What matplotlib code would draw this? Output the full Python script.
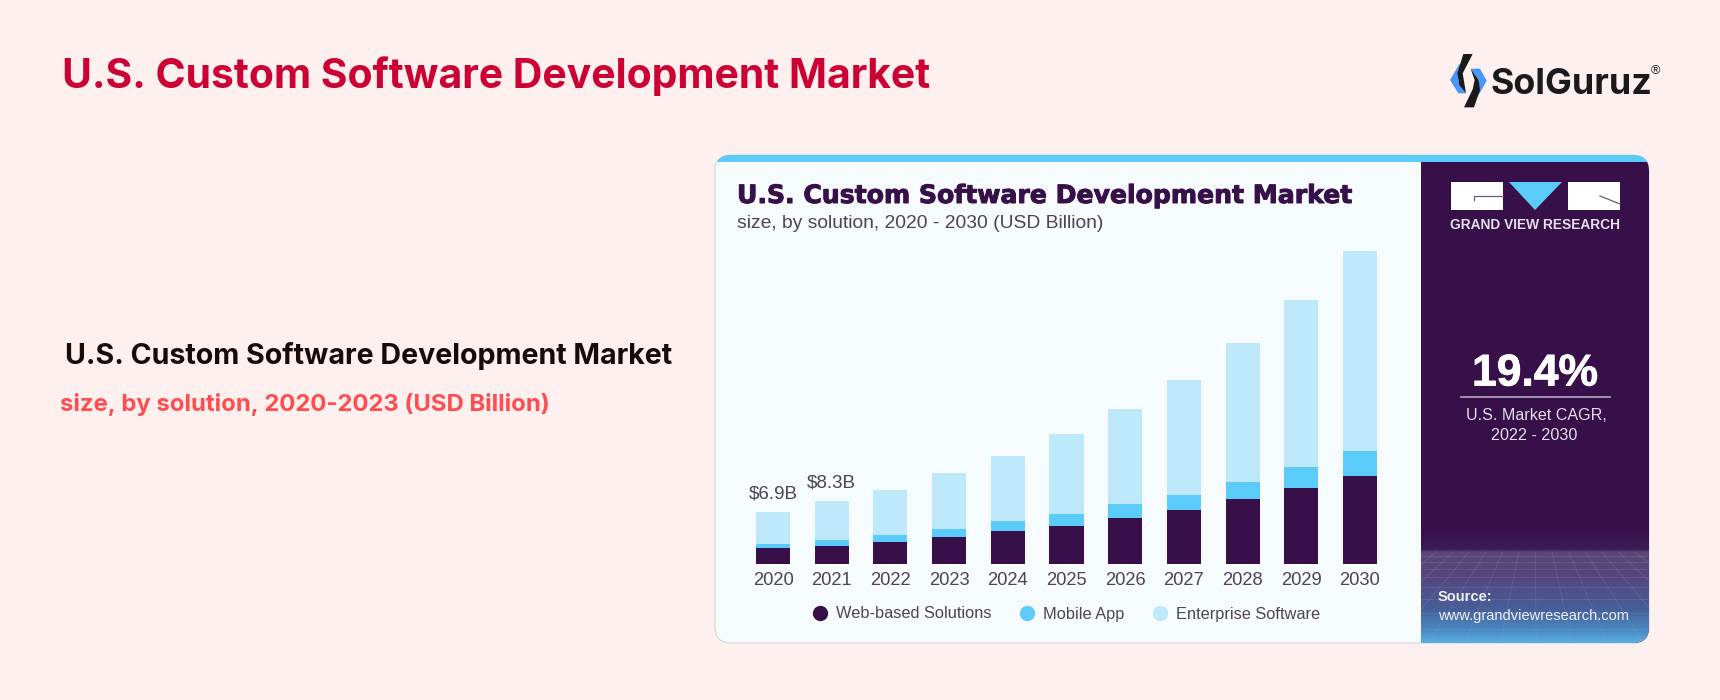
"""U.S. custom software development market, stacked bars inside a report card."""

import matplotlib
matplotlib.use("Agg")
import matplotlib.patheffects as pe
import matplotlib.pyplot as plt
import numpy as np
from matplotlib.colors import LinearSegmentedColormap
from matplotlib.lines import Line2D
from matplotlib.patches import FancyBboxPatch, Polygon, Rectangle

years = ['2020', '2021', '2022', '2023', '2024', '2025', '2026', '2027', '2028', '2029', '2030']
web_based = [2.1, 2.4, 2.85, 3.6, 4.35, 5.05, 6.1, 7.1, 8.55, 10.0, 11.7]
mobile_app = [0.6, 0.75, 1.05, 1.05, 1.3, 1.5, 1.8, 2.0, 2.25, 2.8, 3.3]
enterprise = [4.2, 5.15, 5.9, 7.35, 8.6, 10.65, 12.55, 15.2, 18.45, 22.15, 26.35]
total_labels = ['$6.9B', '$8.3B', '', '', '', '', '', '', '', '', '']
series_names = ['Web-based Solutions', 'Mobile App', 'Enterprise Software']

PAGE_BG = '#FEF0EE'
CARD_BG = '#F6FBFE'
PURPLE = '#37104A'
BLUE = '#5BCBFA'
LIGHT_BLUE = '#BDE9FB'
GREY_TEXT = '#4E4454'
W, H = 1720, 700

plt.rcParams['font.family'] = ['Liberation Sans', 'DejaVu Sans']

fig = plt.figure(figsize=(W / 100, H / 100), dpi=100, facecolor=PAGE_BG)

# Full page axes in pixel coordinates for the page text and card decoration
page = fig.add_axes([0, 0, 1, 1])
page.set_xlim(0, W)
page.set_ylim(H, 0)
page.axis('off')

page.text(62, 76, 'U.S. Custom Software Development Market', color='#CC0033', fontsize=29.4,
          family='Inter', weight='bold', va='center', ha='left')
page.text(65, 356, 'U.S. Custom Software Development Market', color='#1A0A0C', fontsize=20.6,
          family='Inter', weight='bold', va='center', ha='left')
page.text(60, 404, 'size, by solution, 2020-2023 (USD Billion)', color='#FF4D50', fontsize=17.2,
          family='Inter', weight='bold', va='center', ha='left')

# Card
card = FancyBboxPatch((715, 155), 934, 488, boxstyle='round,pad=0,rounding_size=16',
                      facecolor=CARD_BG, edgecolor='#D2D4D8', linewidth=0.7, zorder=1)
page.add_patch(card)
strip = Rectangle((714, 154), 936, 8, facecolor=BLUE, edgecolor='none', zorder=2)
page.add_patch(strip)
strip.set_clip_path(card)
side = Rectangle((1421, 162), 229, 482, facecolor=PURPLE, edgecolor='none', zorder=2)
page.add_patch(side)
side.set_clip_path(card)

# Footer gradient of the side panel
footer_cmap = LinearSegmentedColormap.from_list('footer', [
    (0.0, PURPLE), (0.17, '#3B1D58'), (0.19, '#5C4576'), (0.42, '#54467E'),
    (0.70, '#47609A'), (0.88, '#4A8AC2'), (1.0, '#5AB4E4')])
footer = page.imshow(np.linspace(0, 1, 256).reshape(-1, 1), cmap=footer_cmap, aspect='auto',
                     extent=(1421, 1650, 644, 530), zorder=3)
footer.set_clip_path(card)
page.set_xlim(0, W)
page.set_ylim(H, 0)

# Perspective mesh over the footer, kept inside the side panel
mesh_clip = Rectangle((1421, 551), 229, 93, transform=page.transData)
for x_far in np.linspace(1421, 1650, 15):
    x_near = 1535 + (x_far - 1535) * 2.2
    line, = page.plot([x_far, x_near], [551, 644], color='#9FB4D8', lw=0.5, alpha=0.22, zorder=4)
    line.set_clip_path(mesh_clip)
for y in [556, 562, 569, 577, 587, 599, 613, 629]:
    line, = page.plot([1421, 1650], [y, y], color='#9FB4D8', lw=0.5, alpha=0.2, zorder=4)
    line.set_clip_path(mesh_clip)

page.text(737, 196, 'U.S. Custom Software Development Market', color=PURPLE, fontsize=18.1,
          family='DejaVu Sans', weight='bold', va='center', ha='left', zorder=5,
          path_effects=[pe.withStroke(linewidth=0.7, foreground=PURPLE)])
page.text(737, 224, 'size, by solution, 2020 - 2030 (USD Billion)', color=GREY_TEXT, fontsize=13.9,
          va='center', ha='left', zorder=5)

# Grand View Research logo
page.add_patch(Rectangle((1451, 182), 52, 28, facecolor='white', zorder=5))
page.add_patch(Rectangle((1568, 182), 52, 28, facecolor='white', zorder=5))
page.add_patch(Polygon([(1509, 182), (1562, 182), (1535, 210)], facecolor=BLUE, zorder=5))
page.plot([1503, 1474, 1474], [196, 196, 200], color='#6C5A78', lw=0.9, zorder=6)
page.plot([1600, 1620], [196, 204], color='#6C5A78', lw=0.9, zorder=6)
page.text(1535.5, 225, 'GRAND VIEW RESEARCH', color='#E4DEE8', fontsize=9.9, weight='bold',
          va='center', ha='center', zorder=5)

page.text(1535, 374, '19.4%', color='white', fontsize=32, weight='bold', va='center', ha='center', zorder=5,
          path_effects=[pe.withStroke(linewidth=0.6, foreground='white')])
page.plot([1461, 1610], [397, 397], color='#A89AB5', lw=1.3, zorder=5)
page.text(1536, 415, 'U.S. Market CAGR,', color='#E4DEE8', fontsize=11.6, va='center', ha='center', zorder=5)
page.text(1534, 435, '2022 - 2030', color='#E4DEE8', fontsize=11.6, va='center', ha='center', zorder=5)
page.text(1438, 597, 'Source:', color='#F0F0F5', fontsize=10.5, weight='bold', va='center', ha='left', zorder=5)
page.text(1438, 616, 'www.grandviewresearch.com', color='#F0F0F5', fontsize=10.5, va='center', ha='left', zorder=5)

# SolGuruz logo, points
def logo_shape(points, color):
    xy = [(1430 + px / 3, 30 + py / 3) for px, py in points]
    page.add_patch(Polygon(xy, facecolor=color, edgecolor='none', zorder=5))

logo_shape([(88, 102), (60, 150), (85, 190), (108, 190), (84, 150), (100, 112)], '#4A96FF')
logo_shape([(122, 116), (150, 116), (170, 152), (146, 195), (134, 170), (148, 152)], '#4A96FF')
logo_shape([(100, 72), (128, 72), (98, 130), (108, 190), (88, 165), (82, 130)], '#1B1A1A')
logo_shape([(122, 116), (146, 150), (150, 180), (132, 232), (102, 232), (128, 178), (134, 150)], '#1B1A1A')
page.text(1490, 94, 'SolGuruz', color='#1B1A1A', fontsize=25.8, family='Inter', weight='bold',
          va='baseline', ha='left', zorder=5)
page.text(1655, 71, '\u00ae', color='#1B1A1A', fontsize=9, va='center', ha='center', zorder=5)

# Bars: x is the year index, y is USD billion
ax = fig.add_axes([740 / W, 1 - 564 / H, 650 / W, 364 / H], facecolor='none')
x = np.arange(len(years))
web = np.array(web_based)
mobile = np.array(mobile_app)
ent = np.array(enterprise)
ax.bar(x, web, width=0.58, color=PURPLE)
ax.bar(x, mobile, width=0.58, bottom=web, color=BLUE)
top = ax.bar(x, ent, width=0.58, bottom=web + mobile, color=LIGHT_BLUE)
ax.bar_label(top, labels=total_labels, padding=7, fontsize=13.5, color=GREY_TEXT)
ax.set_xlim((740 - 773) / 58.7, (1390 - 773) / 58.7)
ax.set_ylim(0, 48.15)
ax.set_xticks(x, years)
ax.set_yticks([])
ax.tick_params(axis='x', length=0, pad=6, labelsize=13.2, labelcolor=GREY_TEXT)
for spine in ax.spines.values():
    spine.set_visible(False)

handles = [Line2D([], [], linestyle='none', marker='o', markersize=10, color=c)
           for c in [PURPLE, BLUE, LIGHT_BLUE]]
fig.legend(handles, series_names, loc='center', bbox_to_anchor=(1066 / W, 1 - 614 / H), ncol=3,
           frameon=False, fontsize=11.8, labelcolor=GREY_TEXT, handlelength=1, handletextpad=0.45,
           columnspacing=1.7)

fig.savefig('out.png', dpi=100, facecolor=PAGE_BG)
plt.close(fig)
